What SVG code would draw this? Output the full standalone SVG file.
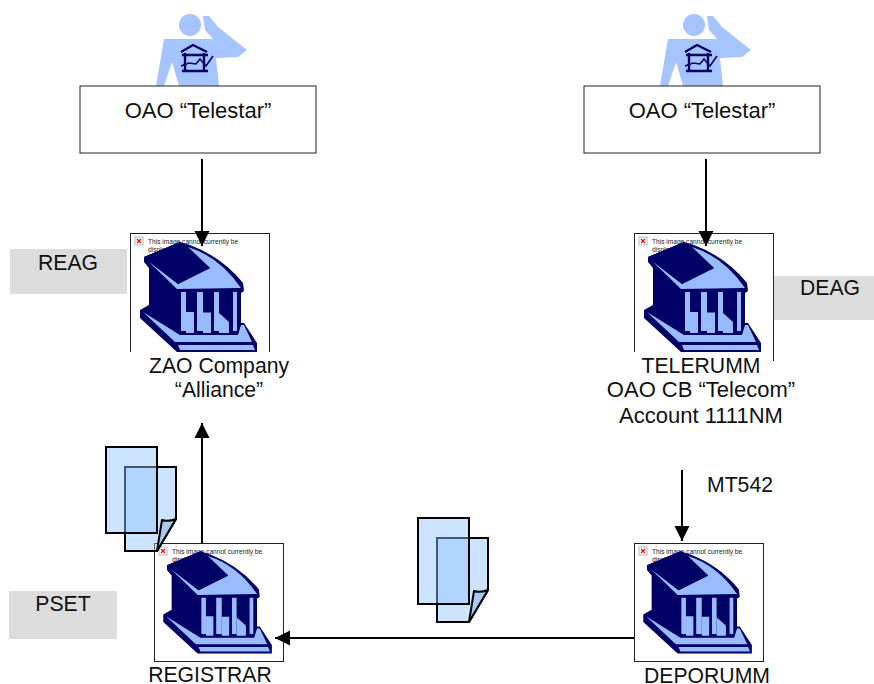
<svg xmlns="http://www.w3.org/2000/svg" xmlns:xlink="http://www.w3.org/1999/xlink" width="874" height="684" viewBox="0 0 874 684">
<style>
text{font-family:"Liberation Sans",Arial,sans-serif;font-size:21.2px;fill:#111}
.m{text-anchor:middle}
.w{font-size:22px}
.tiny{font-size:6.6px;fill:#222}
.lbl{fill:#fff;stroke:#222;stroke-width:1}
.gray{fill:#ddd}
.frame{fill:#fff;stroke:#222;stroke-width:1}
.navy{fill:#000066}
.light{fill:#99bbff}
.body{fill:#a6c4ff}
.doc{fill:#8ec3ff;fill-opacity:.45;stroke:#000;stroke-width:2;stroke-linejoin:miter}
.fold{fill:#a6caf0;stroke:#000;stroke-width:2;stroke-linejoin:round}
.conn{fill:none;stroke:#000;stroke-width:2;marker-end:url(#arr)}
</style>
<defs>
<marker id="arr" markerUnits="userSpaceOnUse" markerWidth="16" markerHeight="16" refX="15" refY="8" orient="auto"><path d="M0 0.500L15 8L0 15.500Z" fill="#000"/></marker>
<g id="bank">
<path class="navy" d="M14 24L50 9L60 12Q92 24 113 50L114 58L111 60L111 90L114 90L127 110L127 119L47 119L10 85L10 77L19 72L19 35L14 29Z"/>
<path class="light" d="M18 28L47 56L111 55Q90 24 58 14L80 35L48 51Z"/>
<path class="navy" d="M14 24L50 9L80 35L48 51Z"/>
<path class="light" d="M51 59H56V98H51ZM67 59H73V98H67ZM84 59H89V98H84ZM103 59H107V98H103Z"/>
<path class="light" d="M56 79H64V100H56ZM73 79.500H81V100H73ZM89 80L99 89V100H89Z"/>
<path class="light" d="M13 79L50 102H108L111 92H114L122 109H45Z"/>
<path class="light" d="M48 112H123L125 117H50Z"/>
</g>
<g id="broken">
<rect x="5" y="4" width="8" height="8" fill="#fff" stroke="#999" stroke-width=".7"/>
<path d="M7 6L11 10M11 6L7 10" stroke="#e01010" stroke-width="1.3"/>
<text class="tiny" x="18" y="11">This image cannot currently be</text>
<text class="tiny" x="18" y="19">displayed.</text>
</g>
<g id="person">
<circle class="body" cx="50" cy="25" r="11"/>
<path class="body" d="M63 16H69L78 27L107 50L98 57L76 58L79 86H39L32 62L24 86H16L24 39H73L65 30Z"/>
<path fill="none" stroke="#000066" stroke-width="2.4" d="M41 52L53 45L67 52M45 53V71M64 53V71M42 55H68M42 71H68"/>
<path fill="none" stroke="#000066" stroke-width="1.6" d="M41 66L49 63L56 64L60 59L66 66L73 56"/>
</g>
<g id="docs">
<path class="doc" d="M125 467H176V519L157 551H125Z"/>
<path class="fold" d="M176 519Q168 522 162 520L157 551Z"/>
<rect class="doc" x="106" y="447" width="51" height="86"/>
</g>
</defs>

<g id="node-reag-label"><rect class="gray" x="10" y="249" width="117" height="45"/><text class="m" x="68" y="270">REAG</text></g>
<g id="node-deag-label"><rect class="gray" x="773" y="276" width="101" height="44"/><text class="m" x="830" y="295">DEAG</text></g>
<g id="node-pset-label"><rect class="gray" x="9" y="591" width="108" height="48"/><text class="m" x="63" y="611">PSET</text></g>

<g id="node-person-left"><use href="#person" x="140" y="0"/></g>
<g id="node-person-right"><use href="#person" x="644" y="0"/></g>
<g id="node-telestar-left"><rect class="lbl" x="80" y="86" width="236" height="67"/><text class="m w" x="198" y="118">OAO “Telestar”</text></g>
<g id="node-telestar-right"><rect class="lbl" x="584" y="86" width="236" height="67"/><text class="m w" x="702" y="118">OAO “Telestar”</text></g>

<g id="node-alliance">
<rect class="frame" x="130.500" y="233.500" width="139" height="127"/>
<use href="#broken" x="130" y="233"/>
<use href="#bank" x="130" y="233"/>
<rect x="125" y="352" width="150" height="12" fill="#fff"/>
<text class="m" x="219" y="373">ZAO Company</text>
<text class="m" x="219" y="397">“Alliance”</text>
</g>
<g id="node-telerumm">
<rect class="frame" x="634.500" y="233.500" width="139" height="127"/>
<use href="#broken" x="634" y="233"/>
<use href="#bank" x="634" y="233"/>
<rect x="629" y="352" width="144" height="12" fill="#fff"/>
<text class="m" x="701" y="373">TELERUMM</text>
<text class="m w" x="701" y="397">OAO CB “Telecom”</text>
<text class="m w" x="701" y="423">Account 1111NM</text>
</g>
<g id="node-registrar">
<rect class="frame" x="154.500" y="543.500" width="129" height="118"/>
<use href="#broken" x="154" y="543"/>
<use href="#bank" transform="translate(154 543) scale(.928)"/>
<text class="m" x="210" y="682">REGISTRAR</text>
</g>
<g id="node-deporumm">
<rect class="frame" x="634.500" y="543.500" width="129" height="118"/>
<use href="#broken" x="634" y="543"/>
<use href="#bank" transform="translate(634 543) scale(.928)"/>
<text class="m" x="707" y="683">DEPORUMM</text>
</g>
<g id="node-docs-left"><use href="#docs"/></g>
<g id="node-docs-right"><use href="#docs" x="312" y="71"/></g>

<g id="connectors">
<path class="conn" d="M202 159V246"/>
<path class="conn" d="M706 159V246"/>
<path class="conn" d="M202 543V423"/>
<path class="conn" d="M682 470V541"/>
<path class="conn" d="M634 638H275"/>
</g>
<text id="label-mt542" x="707" y="492">MT542</text>
</svg>
